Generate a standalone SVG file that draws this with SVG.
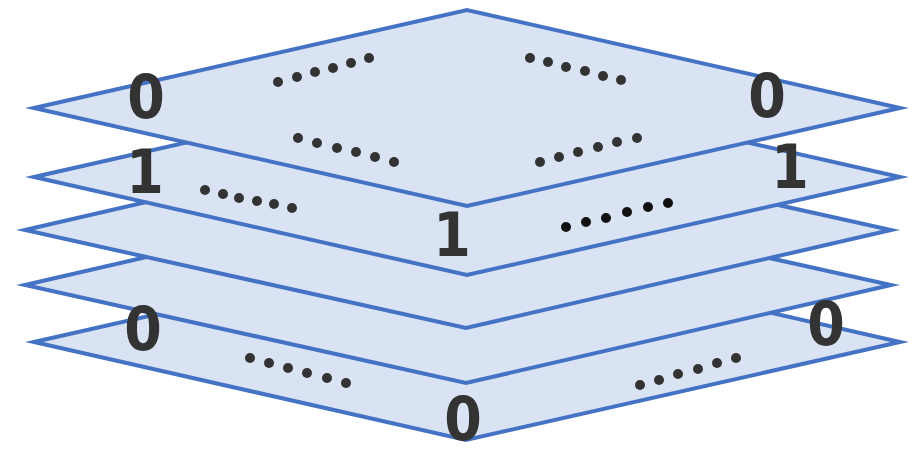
<svg xmlns="http://www.w3.org/2000/svg" width="914" height="453" viewBox="0 0 914 453">
<style>
.plane{fill:#DAE3F3;stroke:#4472C4;stroke-width:4;stroke-linejoin:miter;stroke-miterlimit:10}
.lbl{font-family:"DejaVu Sans Condensed","DejaVu Sans","Liberation Sans",sans-serif;font-stretch:condensed;font-weight:bold;font-size:60px;fill:#333333;text-anchor:middle}
.dot{fill:#333333}
.dk{fill:#111111}
</style>
<rect width="914" height="453" fill="#ffffff"/>
<g id="layer5"><polygon class="plane" points="34,342 467,244 900,342 466,440"/></g>
<g id="layer4"><polygon class="plane" points="25,285 450,187 891,285 466,383"/></g>
<g id="layer3"><polygon class="plane" points="25,230 450,132 891,230 466,328"/></g>
<g id="layer2"><polygon class="plane" points="34,177 467,79 900,177 467,275"/></g>
<g id="layer1"><polygon class="plane" points="34,108 467,10 900,108 467,206"/></g>
<g id="labels">
<text class="lbl" x="146" y="118">0</text>
<text class="lbl" x="767" y="117">0</text>
<text class="lbl" x="145" y="193">1</text>
<text class="lbl" x="790" y="188">1</text>
<text class="lbl" x="452" y="256">1</text>
<text class="lbl" x="143" y="350">0</text>
<text class="lbl" x="826" y="345">0</text>
<text class="lbl" x="463" y="440">0</text>
</g>
<g id="dots">
<g class="dot">
<circle cx="278" cy="82" r="5"/><circle cx="297" cy="77" r="5"/><circle cx="315" cy="72" r="5"/><circle cx="333" cy="68" r="5"/><circle cx="351" cy="63" r="5"/><circle cx="369" cy="58" r="5"/>
<circle cx="298" cy="138" r="5"/><circle cx="317" cy="143" r="5"/><circle cx="337" cy="148" r="5"/><circle cx="356" cy="152" r="5"/><circle cx="375" cy="157" r="5"/><circle cx="394" cy="162" r="5"/>
<circle cx="205" cy="190" r="5"/><circle cx="223" cy="194" r="5"/><circle cx="239" cy="198" r="5"/><circle cx="257" cy="201" r="5"/><circle cx="274" cy="204" r="5"/><circle cx="292" cy="208" r="5"/>
<circle cx="530" cy="58" r="5"/><circle cx="548" cy="62" r="5"/><circle cx="566" cy="67" r="5"/><circle cx="585" cy="71" r="5"/><circle cx="603" cy="76" r="5"/><circle cx="621" cy="80" r="5"/>
<circle cx="540" cy="162" r="5"/><circle cx="559" cy="157" r="5"/><circle cx="578" cy="152" r="5"/><circle cx="598" cy="147" r="5"/><circle cx="617" cy="142" r="5"/><circle cx="637" cy="138" r="5"/>
<circle cx="250" cy="358" r="5"/><circle cx="269" cy="363" r="5"/><circle cx="288" cy="368" r="5"/><circle cx="307" cy="373" r="5"/><circle cx="327" cy="378" r="5"/><circle cx="346" cy="383" r="5"/>
<circle cx="640" cy="385" r="5"/><circle cx="659" cy="380" r="5"/><circle cx="678" cy="374" r="5"/><circle cx="698" cy="369" r="5"/><circle cx="717" cy="363" r="5"/><circle cx="736" cy="358" r="5"/>
</g>
<g class="dk">
<circle cx="566" cy="227" r="5"/><circle cx="586" cy="222" r="5"/><circle cx="606" cy="218" r="5"/><circle cx="627" cy="212" r="5"/><circle cx="648" cy="207" r="5"/><circle cx="668" cy="203" r="5"/>
</g>
</g>
</svg>
